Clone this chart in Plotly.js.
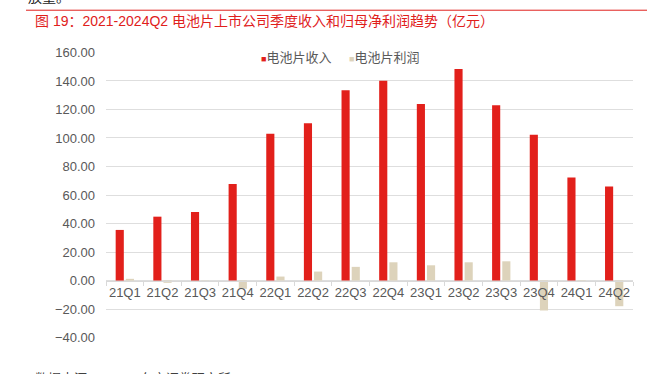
<!DOCTYPE html>
<html>
<head>
<meta charset="utf-8">
<script src="https://cdn.plot.ly/plotly-3.0.1.min.js"></script>
<style>html,body{margin:0;padding:0;background:#fff;}#chart{width:647px;height:374px;}</style>
</head>
<body>
<div id="chart"></div>
<script>
const categories = ["21Q1","21Q2","21Q3","21Q4","22Q1","22Q2","22Q3","22Q4","23Q1","23Q2","23Q3","23Q4","24Q1","24Q2"];
const revenue = [35.5, 44.8, 48.1, 67.7, 102.9, 110.4, 133.5, 140.1, 123.9, 148.4, 123.0, 102.2, 72.3, 66.0];
const profit = [1.2, -1.6, 0.2, -5.8, 2.8, 6.3, 9.6, 12.8, 10.7, 12.8, 13.5, -21.0, -0.3, -18.0];
const seriesNames = ["电池片收入", "电池片利润"];
const yTicks = [-40, -20, 0, 20, 40, 60, 80, 100, 120, 140, 160];

const RED = "#e2201b";
const BEIGE = "#ddd3bb";
const FONT = "Liberation Sans, Arial, Noto Sans CJK SC, sans-serif";
const CJK = "Liberation Sans, Noto Sans CJK SC, sans-serif";

const traces = [
  {type: "bar", x: categories, y: revenue, name: seriesNames[0], marker: {color: RED}, showlegend: false, hoverinfo: "x+y"},
  {type: "bar", x: categories, y: profit, name: seriesNames[1], marker: {color: BEIGE}, showlegend: false, hoverinfo: "x+y"}
];

// y range padded slightly so the -40 and 160 gridlines are drawn
const Y0 = -40.3, Y1 = 160.3;
const PX = 1.4286; // pixels per unit
const topPx = 52.3 - 0.3 * PX, botPx = 338 + 0.3 * PX;
const plotH = botPx - topPx;
const py = v => 1 - (v - topPx) / plotH; // pixel y -> paper y

const layout = {
  width: 647, height: 374,
  margin: {l: 106, r: 14, t: topPx, b: 374 - botPx, pad: 0},
  paper_bgcolor: "#ffffff", plot_bgcolor: "#ffffff",
  barmode: "group", bargap: 0.46, bargroupgap: 0.2,
  title: {
    text: "图 19：2021-2024Q2 电池片上市公司季度收入和归母净利润趋势（亿元）",
    font: {family: CJK, size: 14, color: "#e0201b"},
    x: 35/647, xref: "container", xanchor: "left",
    y: 1 - 21/374, yref: "container", yanchor: "middle"
  },
  xaxis: {
    type: "category", range: [-0.5, 13.5],
    anchor: "free", position: (0 - Y0) / (Y1 - Y0),
    showline: true, linecolor: "#d9d9d9", linewidth: 1,
    ticks: "outside", tickson: "boundaries", ticklen: 4, tickcolor: "#d9d9d9",
    tickangle: 0,
    showgrid: false, zeroline: false,
    tickfont: {family: FONT, size: 13, color: "#595959"}
  },
  yaxis: {
    range: [Y0, Y1], tickvals: yTicks, tickformat: ".2f",
    showgrid: true, gridcolor: "#dedede", gridwidth: 1,
    zeroline: false, showline: false, ticks: "",
    ticklabelstandoff: 10,
    tickfont: {family: FONT, size: 13, color: "#595959"}
  },
  shapes: [
    {type: "line", xref: "paper", yref: "paper", x0: (26-106)/527, x1: (647-106)/527, y0: py(10), y1: py(10), line: {color: "#e0201b", width: 1}}
  ],
  annotations: [
    {xref: "paper", yref: "paper", x: (259-106)/527, y: py(57), xanchor: "left", yanchor: "middle", showarrow: false,
     text: '<span style="color:' + RED + ';font-size:9px">■</span>' + seriesNames[0], font: {family: CJK, size: 13, color: "#595959"}},
    {xref: "paper", yref: "paper", x: (347-106)/527, y: py(57), xanchor: "left", yanchor: "middle", showarrow: false,
     text: '<span style="color:' + BEIGE + ';font-size:9px">■</span>' + seriesNames[1], font: {family: CJK, size: 13, color: "#595959"}},
    {xref: "paper", yref: "paper", x: (33-106)/527, y: py(369), xanchor: "left", yanchor: "top", showarrow: false,
     text: "数据来源：wind，东方证券研究所", font: {family: CJK, size: 13, color: "#404040"}},
    {xref: "paper", yref: "paper", x: (26-106)/527, y: py(-3), xanchor: "left", yanchor: "middle", showarrow: false,
     text: "放量。", font: {family: CJK, size: 14, color: "#222222"}}
  ]
};

Plotly.newPlot("chart", traces, layout, {displayModeBar: false, staticPlot: true});
</script>
</body>
</html>
